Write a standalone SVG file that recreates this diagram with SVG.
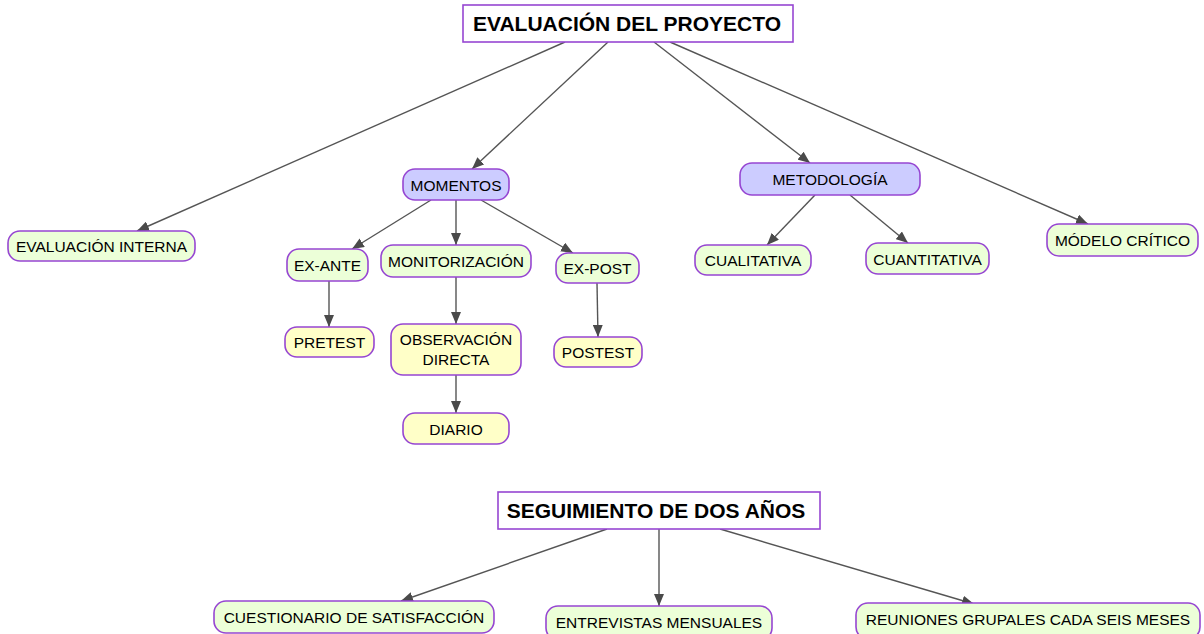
<svg xmlns="http://www.w3.org/2000/svg" width="1204" height="634" viewBox="0 0 1204 634">
<defs>
<marker id="arr" viewBox="0 0 12 10" refX="12" refY="5" markerWidth="12" markerHeight="10" markerUnits="userSpaceOnUse" orient="auto">
<path d="M0,0 L12,5 L0,10 z" fill="#4a4a4a"/>
</marker>
<style>
.edge{stroke:#555555;stroke-width:1.4;fill:none;marker-end:url(#arr)}
.n rect{stroke:#9646d2;stroke-width:1.6}
.g rect{fill:#ecffd8}
.y rect{fill:#ffffc8}
.b rect{fill:#ccccff}
.w rect{fill:#ffffff}
text{font-family:"Liberation Sans",Arial,sans-serif;font-size:15.5px;fill:#000;text-anchor:middle}
.t text{font-size:21px;font-weight:bold}
</style>
</defs>
<rect width="1204" height="634" fill="#ffffff"/>
<g id="connectors">
<line class="edge" x1="565" y1="42" x2="137" y2="231"/>
<line class="edge" x1="608" y1="42" x2="472" y2="169"/>
<line class="edge" x1="654" y1="42" x2="810" y2="163"/>
<line class="edge" x1="670" y1="42" x2="1088" y2="224"/>
<line class="edge" x1="431" y1="200" x2="352" y2="249"/>
<line class="edge" x1="456" y1="200" x2="456" y2="245"/>
<line class="edge" x1="481" y1="200" x2="573" y2="253"/>
<line class="edge" x1="329" y1="281" x2="329" y2="327"/>
<line class="edge" x1="456" y1="277" x2="456" y2="324"/>
<line class="edge" x1="456" y1="375" x2="456" y2="413"/>
<line class="edge" x1="597" y1="283" x2="598" y2="337"/>
<line class="edge" x1="815" y1="195" x2="767" y2="245"/>
<line class="edge" x1="850" y1="195" x2="908" y2="243"/>
<line class="edge" x1="607" y1="529" x2="401" y2="601"/>
<line class="edge" x1="659" y1="529" x2="659" y2="606"/>
<line class="edge" x1="720" y1="529" x2="974" y2="604"/>
</g>
<g id="n-title" class="n w t"><rect x="463" y="5" width="330" height="37"/><text x="627" y="31">EVALUACIÓN DEL PROYECTO</text></g>
<g id="n-momentos" class="n b"><rect x="403" y="169" width="106" height="31" rx="12"/><text x="456" y="190.5">MOMENTOS</text></g>
<g id="n-metodologia" class="n b"><rect x="740" y="163" width="180" height="32" rx="12"/><text x="830" y="184.5">METODOLOGÍA</text></g>
<g id="n-interna" class="n g"><rect x="8" y="231" width="187" height="30" rx="12"/><text x="101.5" y="251.5">EVALUACIÓN INTERNA</text></g>
<g id="n-exante" class="n g"><rect x="287" y="249" width="81" height="32" rx="12"/><text x="327.5" y="270.5">EX-ANTE</text></g>
<g id="n-monit" class="n g"><rect x="381" y="245" width="150" height="32" rx="12"/><text x="456" y="266.5">MONITORIZACIÓN</text></g>
<g id="n-expost" class="n g"><rect x="556" y="253" width="83" height="30" rx="12"/><text x="597.5" y="273.5">EX-POST</text></g>
<g id="n-pretest" class="n y"><rect x="285" y="327" width="89" height="30" rx="12"/><text x="329.5" y="347.5">PRETEST</text></g>
<g id="n-obs" class="n y"><rect x="391" y="324" width="130" height="51" rx="12"/><text x="456" y="345">OBSERVACIÓN</text><text x="456" y="365">DIRECTA</text></g>
<g id="n-postest" class="n y"><rect x="554" y="337" width="88" height="30" rx="12"/><text x="598" y="357.5">POSTEST</text></g>
<g id="n-diario" class="n y"><rect x="403" y="413" width="106" height="31" rx="12"/><text x="456" y="434.5">DIARIO</text></g>
<g id="n-cuali" class="n g"><rect x="695" y="245" width="116" height="30" rx="12"/><text x="753" y="265.5">CUALITATIVA</text></g>
<g id="n-cuanti" class="n g"><rect x="866" y="243" width="123" height="31" rx="12"/><text x="927.5" y="264.5">CUANTITATIVA</text></g>
<g id="n-critico" class="n g"><rect x="1047" y="224" width="151" height="32" rx="12"/><text x="1122.5" y="245.5">MÓDELO CRÍTICO</text></g>
<g id="n-seguimiento" class="n w t"><rect x="498" y="492" width="322" height="37"/><text x="656" y="518">SEGUIMIENTO DE DOS AÑOS</text></g>
<g id="n-cuest" class="n g"><rect x="214" y="601" width="280" height="32" rx="12"/><text x="354" y="622.5">CUESTIONARIO DE SATISFACCIÓN</text></g>
<g id="n-entrev" class="n g"><rect x="546" y="606" width="226" height="34" rx="12"/><text x="659" y="628">ENTREVISTAS MENSUALES</text></g>
<g id="n-reun" class="n g"><rect x="856" y="603" width="344" height="36" rx="12"/><text x="1028" y="625">REUNIONES GRUPALES CADA SEIS MESES</text></g>
</svg>
